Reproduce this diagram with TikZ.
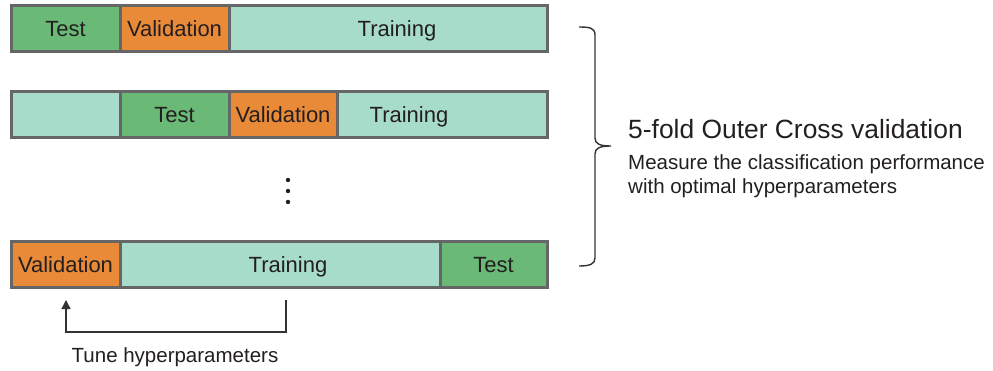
\documentclass[tikz,border=0pt]{standalone}
\usepackage{fontspec}
\setmainfont{Liberation Sans}
\usetikzlibrary{arrows.meta}
\definecolor{testc}{HTML}{6BB976}
\definecolor{valc}{HTML}{E88A38}
\definecolor{trainc}{HTML}{A7DBCA}
\definecolor{edgec}{HTML}{666666}
\definecolor{txtc}{HTML}{231F20}
\definecolor{linec}{HTML}{333333}
\begin{document}
\begin{tikzpicture}[x=1pt,y=-1pt,
  fold/.style={draw=edgec, line width=3pt, inner sep=0pt, outer sep=0pt,
    minimum height=46pt, anchor=north west},
  testbox/.style={fold, fill=testc},
  valbox/.style={fold, fill=valc},
  trainbox/.style={fold, fill=trainc},
  lab/.style={font=\fontsize{22}{26}\selectfont, text=txtc, inner sep=0pt, anchor=base},
  small/.style={font=\fontsize{20.5}{24}\selectfont, text=txtc, inner sep=0pt, anchor=base west},
  big/.style={font=\fontsize{26.4}{30}\selectfont, text=txtc, inner sep=0pt, anchor=base west},
  conn/.style={draw=linec, line width=1.3pt},
]
\useasboundingbox (0,0) rectangle (993,370);

% Row 1
\node[testbox,  minimum width=109pt] (a1) at (11,5) {};
\node[valbox,   minimum width=109pt] (a2) at (120,5) {};
\node[trainbox, minimum width=318pt] (a3) at (229,5) {};
\node[lab] (ta1) at (65.5,36) {Test};
\node[lab] (ta2) at (174.5,36) {Validation};
\node[lab] (ta3) at (397,36) {Training};

% Row 2
\node[trainbox, minimum width=109pt] (b1) at (11,91) {};
\node[testbox,  minimum width=109pt] (b2) at (120,91) {};
\node[valbox,   minimum width=108pt] (b3) at (229,91) {};
\node[trainbox, minimum width=210pt] (b4) at (337,91) {};
\node[lab] (tb2) at (174.5,122) {Test};
\node[lab] (tb3) at (283,122) {Validation};
\node[lab] (tb4) at (409,122) {Training};

% dots
\fill[txtc] (288,180) circle (2.2);
\fill[txtc] (288,191) circle (2.2);
\fill[txtc] (288,202) circle (2.2);

% Row 3
\node[valbox,   minimum width=109pt] (c1) at (11,241) {};
\node[trainbox, minimum width=320pt] (c2) at (120,241) {};
\node[testbox,  minimum width=107pt] (c3) at (440,241) {};
\node[lab] (tc1) at (65.5,272) {Validation};
\node[lab] (tc2) at (288,272) {Training};
\node[lab] (tc3) at (493.5,272) {Test};

% tune arrow
\coordinate (tstart) at (286,300);
\coordinate (tend) at (66,300);
\draw[conn, -{Triangle[length=9pt,width=9pt]}] (tstart) -- (286,332) -| (tend);
\node[font=\fontsize{20.5}{24}\selectfont, text=txtc, inner sep=0pt, anchor=base] (tune) at (175,362) {Tune hyperparameters};

% brace
\draw[draw=linec, line width=1.4pt]
  (579,27) .. controls (590,27) and (595,28) .. (595,35) -- (595,138)
  .. controls (595,144) and (600,146) .. (611,146)
  .. controls (600,146) and (595,148) .. (595,154) -- (595,258)
  .. controls (595,264) and (590,266) .. (579,266);

\node[big] (title) at (628,138) {5-fold Outer Cross validation};
\node[small] (m1) at (628,169) {Measure the classification performance};
\node[small] (m2) at (628,193) {with optimal hyperparameters};
\end{tikzpicture}
\end{document}
